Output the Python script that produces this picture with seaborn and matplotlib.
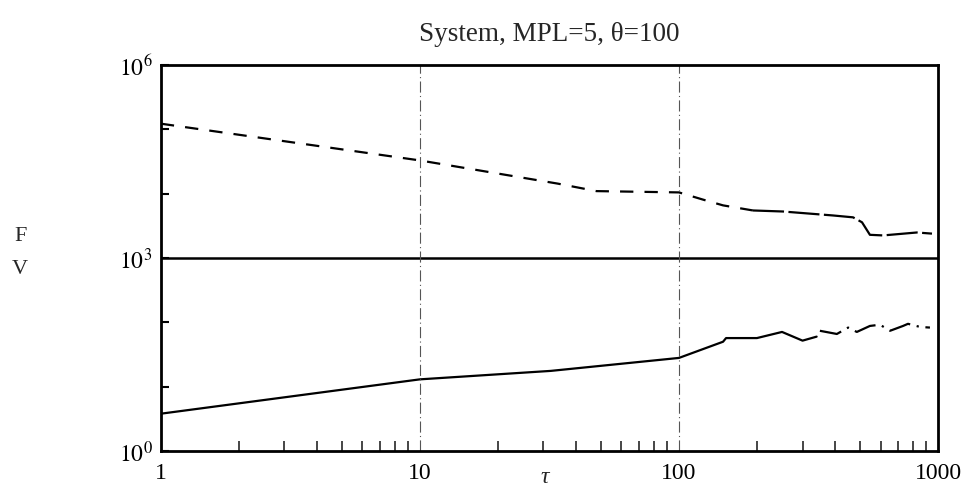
import matplotlib
matplotlib.use("Agg")
import matplotlib.pyplot as plt
import matplotlib.ticker as mticker
import numpy as np
import pandas as pd
import seaborn as sns

# ---- data ----
title = "System, MPL=5, θ=100"
tau_f = [1, 10, 34, 48, 100, 124, 148, 193, 252, 393, 470, 509, 546, 614, 829, 948]
f_vals = [1.23e5, 3.3e4, 1.44e4, 1.1e4, 1.05e4, 8.1e3, 6.6e3, 5.5e3, 5.3e3, 4.6e3,
          4.3e3, 3.6e3, 2.3e3, 2.25e3, 2.5e3, 2.4e3]
f_split = 7  # index where dashed part ends and solid part begins

tau_v = [1, 10, 32, 100, 148, 152, 200, 250, 300, 340]
v_vals = [3.8, 13, 17.6, 28, 50, 57, 57, 71, 52, 60]

tau_w = [350, 407, 450, 486, 546, 597, 653, 733, 766, 852, 931]
w_vals = [74, 66, 83, 71, 88, 92, 74, 88, 95, 85, 83]

ref_level = 1e3
vlines = [10, 100]
x_ticks = [1, 10, 100, 1000]
x_ticklabels = ["1", "10", "100", "1000"]
y_ticks = [1, 10, 100, 1e3, 1e4, 1e5, 1e6]
y_ticklabels = [r"$10^0$", "", "", r"$10^3$", "", "", r"$10^6$"]

sns.set_theme(style="white")
plt.rcParams["font.family"] = ["Liberation Serif", "DejaVu Serif"]
plt.rcParams["mathtext.fontset"] = "stix"

fig = plt.figure(figsize=(9.69, 4.89), dpi=100)
ax = fig.add_axes([0.166, 0.0757, 0.802, 0.789])

df_f1 = pd.DataFrame({"tau": tau_f[:f_split + 1], "val": f_vals[:f_split + 1]})
df_f2 = pd.DataFrame({"tau": tau_f[f_split:], "val": f_vals[f_split:]})
df_v = pd.DataFrame({"tau": tau_v, "val": v_vals})
df_w = pd.DataFrame({"tau": tau_w, "val": w_vals})

sns.lineplot(data=df_f1, x="tau", y="val", ax=ax, color="black", lw=1.6,
             sort=False, estimator=None, linestyle=(0, (6, 5)))
sns.lineplot(data=df_f2, x="tau", y="val", ax=ax, color="black", lw=1.6,
             sort=False, estimator=None, linestyle=(0, (14, 2)))
sns.lineplot(data=df_v, x="tau", y="val", ax=ax, color="black", lw=1.6,
             sort=False, estimator=None)
sns.lineplot(data=df_w, x="tau", y="val", ax=ax, color="black", lw=1.6,
             sort=False, estimator=None, linestyle=(0, (10, 3, 1, 3)))

ax.axhline(ref_level, color="black", lw=1.8)
for xv in vlines:
    ax.axvline(xv, color="#555555", lw=0.8, linestyle=(0, (10, 3, 1, 3)))

ax.set_xscale("log")
ax.set_yscale("log")
ax.set_xlim(1, 1000)
ax.set_ylim(1, 1e6)

ax.xaxis.set_major_locator(mticker.FixedLocator(x_ticks))
ax.xaxis.set_major_formatter(mticker.FixedFormatter(x_ticklabels))
ax.xaxis.set_minor_locator(mticker.LogLocator(base=10, subs=np.arange(2, 10), numticks=20))
ax.xaxis.set_minor_formatter(mticker.NullFormatter())
ax.yaxis.set_major_locator(mticker.FixedLocator(y_ticks))
ax.yaxis.set_major_formatter(mticker.FixedFormatter(y_ticklabels))
ax.yaxis.set_minor_locator(mticker.NullLocator())

ax.tick_params(axis="both", which="major", direction="in", length=6, width=1.5,
               labelsize=17, colors="black", pad=8)
ax.tick_params(axis="x", which="minor", direction="in", length=7, width=1.2,
               bottom=True)
ax.tick_params(axis="x", which="major", bottom=False)
ax.tick_params(axis="y", which="major", left=True, pad=6)
for s in ax.spines.values():
    s.set_color("black")
    s.set_linewidth(2)

ax.set_xlabel("τ", fontsize=17, style="italic", va="top")
ax.xaxis.set_label_coords(0.494, -0.038)
ax.set_ylabel("F\nV", fontsize=16, rotation=0, va="center", ha="center",
              linespacing=2.0)
ax.yaxis.set_label_coords(-0.181, 0.515)
ax.set_title(title, fontsize=19.5, pad=18)

fig.savefig("out.png", dpi=100, facecolor="white")
